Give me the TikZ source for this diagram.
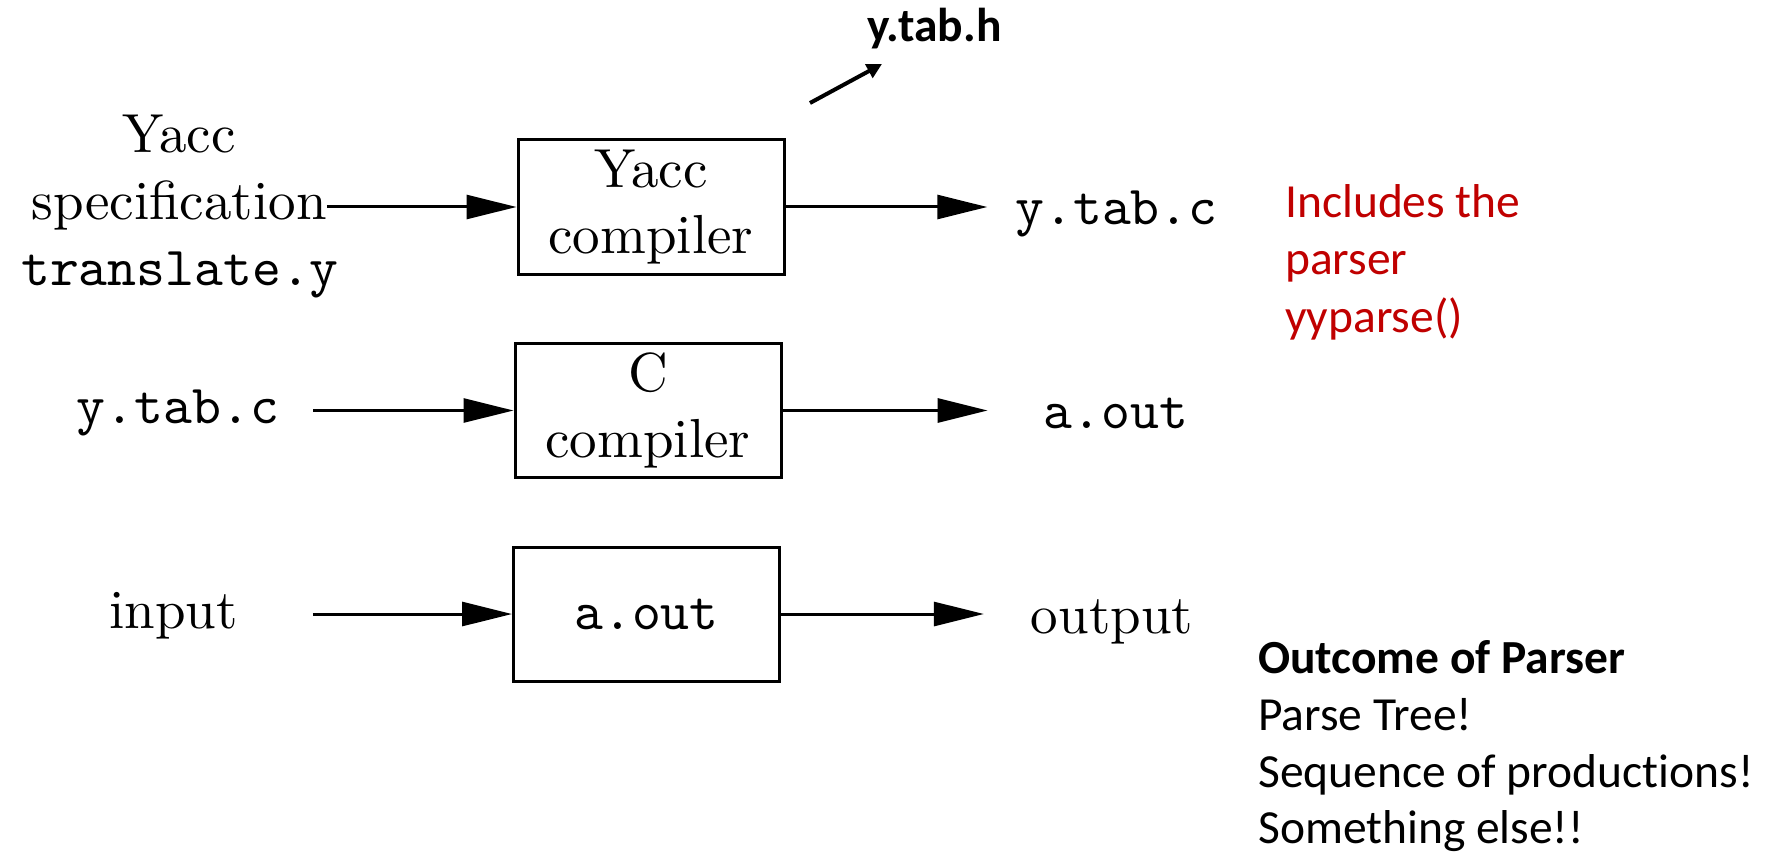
\documentclass[tikz,border=0pt]{standalone}
\usepackage{fontspec}
\usetikzlibrary{arrows.meta}
\newfontfamily\cmrmfam{lmroman10-regular}[Extension=.otf]
\newfontfamily\cmttfam{lmmono10-regular}[Extension=.otf]
\newfontfamily\calfam{Carlito}[Ligatures=NoCommon]
\newcommand\bigrm{\cmrmfam\fontsize{55}{66}\selectfont}
\newcommand\bigtt{\cmttfam\fontsize{55}{66}\selectfont}
\newcommand\notefont{\calfam\fontsize{47.5}{57}\selectfont}
\definecolor{notered}{RGB}{192,0,0}
\tikzset{
  stage/.style={draw, line width=3pt, minimum width=266pt, minimum height=134pt,
    inner sep=0pt, align=center, font=\bigrm},
  rmlab/.style={font=\bigrm, inner sep=0pt, anchor=base},
  ttlab/.style={font=\bigtt, inner sep=0pt, anchor=base},
  noteline/.style={font=\notefont, inner sep=0pt, anchor=base west},
  flow/.style={line width=3pt, -{Triangle[length=50pt,width=24pt]}},
}
\begin{document}
\begin{tikzpicture}[x=1pt,y=-1pt]
\useasboundingbox (0,0) rectangle (1782,853);

% processing stages
\node[stage] (ybox) at (651,207) {Yacc\\compiler};
\node[stage] (cbox) at (648,410.5) {C\\compiler};
\node[stage, font=\bigtt] (abox) at (646.5,614) {a.out};

% inputs
\node[rmlab] (yaccL) at (179,153) {Yacc};
\node[rmlab] (specL) at (179,219) {specification};
\node[ttlab] (transL) at (180,285) {translate.y};
\node[ttlab] (ytabL) at (178,423) {y.tab.c};
\node[rmlab] (inputL) at (173.5,628) {input};

% outputs
\node[ttlab] (ytabR) at (1116.5,225) {y.tab.c};
\node[ttlab] (aoutR) at (1116,428) {a.out};
\node[rmlab] (outputR) at (1112,633) {output};

% data flow
\draw[flow] (specL.east |- ybox.west) -- (ybox.west);
\draw[flow, shorten >=28pt] (ybox.east) -- (ybox.east -| ytabR.west);
\draw[flow, shorten <=34pt] (cbox.west -| ytabL.east) -- (cbox.west);
\draw[flow, shorten >=56pt] (cbox.east) -- (cbox.east -| aoutR.west);
\draw[flow, shorten <=75pt] (abox.west -| inputL.east) -- (abox.west);
\draw[flow, shorten >=47pt] (abox.east) -- (abox.east -| outputR.west);

% header file also produced
\node[font={\calfam\bfseries\fontsize{47.5}{57}\selectfont}, inner sep=0pt, anchor=base west] (ytabh) at (867,42) {y.tab.h};
\coordinate (hfrom) at (810,103);
\coordinate (hto) at (882,64);
\draw[line width=4pt, -{Triangle[length=15pt,width=15pt]}] (hfrom) -- (hto);

% annotations
\node[noteline, text=notered] (n1) at (1285,217) {Includes the};
\node[noteline, text=notered] (n2) at (1285,274) {parser};
\node[noteline, text=notered] (n3) at (1285,332) {yyparse()};

\node[noteline, font={\notefont\bfseries}] (o1) at (1258,673) {Outcome of Parser};
\node[noteline] (o2) at (1258,730) {Parse Tree!};
\node[noteline] (o3) at (1258,787) {Sequence of productions!};
\node[noteline] (o4) at (1258,843) {Something else!!};
\end{tikzpicture}
\end{document}
